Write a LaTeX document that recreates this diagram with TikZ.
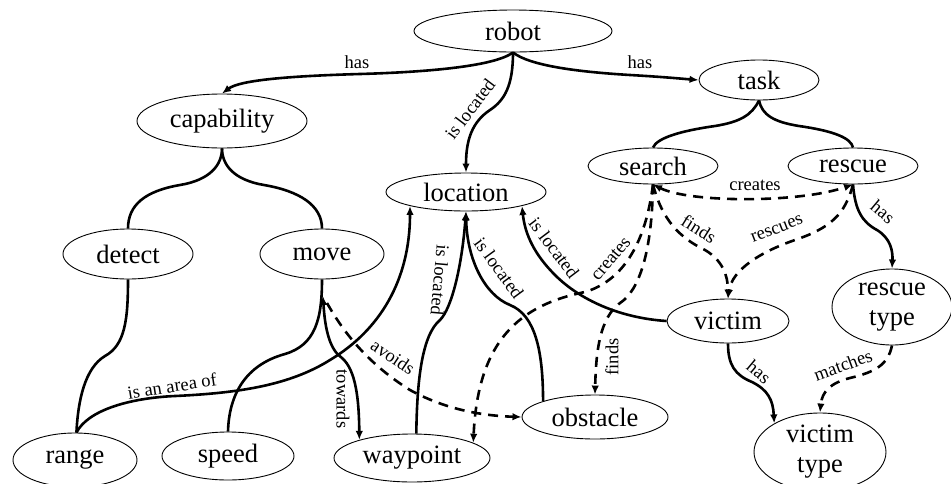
\documentclass[tikz,border=0pt]{standalone}
\usepackage{fontspec}
\setmainfont{Liberation Serif}
\usetikzlibrary{shapes.geometric,arrows.meta}
\begin{document}
\begin{tikzpicture}[x=1pt,y=-1pt,
  >={Latex[length=9pt,width=7.5pt]},
  concept/.style={ellipse,draw,line width=0.9pt,inner sep=0pt,
    font=\fontsize{26.5}{30}\selectfont,align=center},
  rel/.style={line width=2.6pt},
  dashrel/.style={line width=2.6pt,dash pattern=on 10pt off 7pt},
  lbl/.style={font=\fontsize{18.5}{20}\selectfont,inner sep=0pt}]
\useasboundingbox (0,0) rectangle (951,483);

% concepts
\node[concept,minimum width=198pt,minimum height=42pt] (robot) at (513,31) {robot};
\node[concept,minimum width=120pt,minimum height=40pt] (task) at (759,80) {task};
\node[concept,minimum width=170pt,minimum height=54pt] (capability) at (222,121) {capability};
\node[concept,minimum width=160pt,minimum height=38pt] (location) at (466,192) {location};
\node[concept,minimum width=130pt,minimum height=36pt] (search) at (653,166) {search};
\node[concept,minimum width=130pt,minimum height=36pt] (rescue) at (853,166) {rescue};
\node[concept,minimum width=130pt,minimum height=50pt] (detect) at (128,254) {detect};
\node[concept,minimum width=124pt,minimum height=50pt] (move) at (322,254) {move};
\node[concept,minimum width=124pt,minimum height=54pt] (range) at (75,460) {range};
\node[concept,minimum width=132pt,minimum height=48pt] (speed) at (228,456) {speed};
\node[concept,minimum width=156pt,minimum height=48pt] (waypoint) at (412,458) {waypoint};
\node[concept,minimum width=146pt,minimum height=44pt] (obstacle) at (595,417) {obstacle};
\node[concept,minimum width=122pt,minimum height=44pt] (victim) at (728,321) {victim};
\node[concept,minimum width=120pt,minimum height=76pt] (rescuetype) at (892,307) {rescue\\type};
\node[concept,minimum width=132pt,minimum height=78pt] (victimtype) at (820,452) {victim\\type};

% robot edges
\draw[rel,->] (robot.south) .. controls (495,66) and (430,72) .. (360,74)
  .. controls (290,76) and (240,80) .. (capability.north);
\node[lbl] (l1) at (357,62) {has};
\draw[rel,->] (robot.south) .. controls (530,66) and (580,72) .. (630,75)
  .. controls (665,77) and (685,79) .. (task.west);
\node[lbl] (l2) at (640,62) {has};
\draw[rel,->] (robot.south) .. controls (513,85) and (505,100) .. (490,110)
  .. controls (472,122) and (466,140) .. (location.north);
\node[lbl,rotate=53] (l3) at (470,109) {is located};

% task
\draw[rel] (task.south) .. controls (752,115) and (740,122) .. (715,126)
  .. controls (680,131) and (657,138) .. (search.north);
\draw[rel] (task.south) .. controls (762,115) and (774,122) .. (799,126)
  .. controls (834,131) and (851,138) .. (rescue.north);

% capability
\draw[rel] (capability.south) .. controls (222,165) and (210,180) .. (180,185)
  .. controls (145,191) and (128,205) .. (detect.north);
\draw[rel] (capability.south) .. controls (222,165) and (234,180) .. (264,185)
  .. controls (299,191) and (322,205) .. (move.north);
\draw[rel] (detect.south) .. controls (128,320) and (125,345) .. (105,356)
  .. controls (85,368) and (78,400) .. (range.87);
\draw[rel] (move.south) .. controls (322,320) and (315,345) .. (285,354)
  .. controls (245,365) and (229,395) .. (speed.north);

% towards / avoids
\coordinate (mvtip) at (323,296);
\draw[rel,<->] (mvtip) .. controls (325,330) and (330,350) .. (342,358)
  .. controls (356,370) and (359,400) .. (waypoint.161);
\node[lbl,rotate=-90] (l4) at (343,399) {towards};
\coordinate (avstart) at (327,303);
\draw[dashrel,->] (avstart) .. controls (345,335) and (370,365) .. (410,390)
  .. controls (450,412) and (490,416) .. (obstacle.west);
\node[lbl,rotate=-34] (l5) at (393,357) {avoids};

% range -> location
\draw[rel,->] (range.87) .. controls (88,410) and (130,398) .. (175,396)
  .. controls (240,393) and (290,385) .. (330,360)
  .. controls (380,330) and (410,280) .. (location.-166);
\node[lbl,rotate=9] (l6) at (172,386) {is an area of};

% waypoint / obstacle / victim -> location
\draw[rel,->] (waypoint.80) .. controls (417,380) and (422,335) .. (440,320)
  .. controls (452,308) and (462,265) .. (location.south);
\node[lbl,rotate=-95] (l7) at (440,280) {is located};
\draw[rel,->] (obstacle.163) .. controls (543,350) and (535,315) .. (510,305)
  .. controls (485,295) and (467,260) .. (location.south);
\node[lbl,rotate=-54] (l8) at (499,268) {is located};
\draw[rel,->] (victim.west) .. controls (620,318) and (580,300) .. (555,275)
  .. controls (535,255) and (525,235) .. (location.-14);
\node[lbl,rotate=-53] (l9) at (554,248) {is located};

% search edges
\draw[dashrel,->] (search.south) .. controls (646,240) and (625,280) .. (585,292)
  .. controls (520,305) and (478,340) .. (waypoint.14);
\node[lbl,rotate=50] (l10) at (611,259) {creates};
\draw[dashrel,->] (search.south) .. controls (652,250) and (640,290) .. (620,303)
  .. controls (600,318) and (596,350) .. (obstacle.north);
\node[lbl,rotate=90] (l11) at (612,357) {finds};
\draw[dashrel,->] (search.south) .. controls (662,220) and (680,238) .. (705,250)
  .. controls (722,260) and (728,275) .. (victim.north);
\node[lbl,rotate=-32] (l12) at (699,229) {finds};
\draw[dashrel,<->] (search.south) .. controls (690,203) and (800,203) .. (rescue.south);
\node[lbl] (l14) at (755,185) {creates};

% rescue edges
\draw[dashrel,->] (rescue.south) .. controls (845,215) and (830,228) .. (795,240)
  .. controls (760,252) and (732,270) .. (victim.north);
\node[lbl,rotate=21] (l13) at (777,229) {rescues};
\draw[rel,->] (rescue.south) .. controls (855,210) and (862,222) .. (877,230)
  .. controls (890,238) and (893,250) .. (rescuetype.north);
\node[lbl,rotate=-40] (l15) at (883,212) {has};

% victim type
\draw[rel,->] (victim.south) .. controls (728,365) and (735,375) .. (752,382)
  .. controls (768,390) and (773,400) .. (victimtype.148);
\node[lbl,rotate=-40] (l16) at (759,372) {has};
\draw[dashrel,->] (rescuetype.south) .. controls (888,365) and (875,372) .. (850,378)
  .. controls (830,383) and (822,392) .. (victimtype.north);
\node[lbl,rotate=20] (l17) at (843,365) {matches};
\end{tikzpicture}
\end{document}
